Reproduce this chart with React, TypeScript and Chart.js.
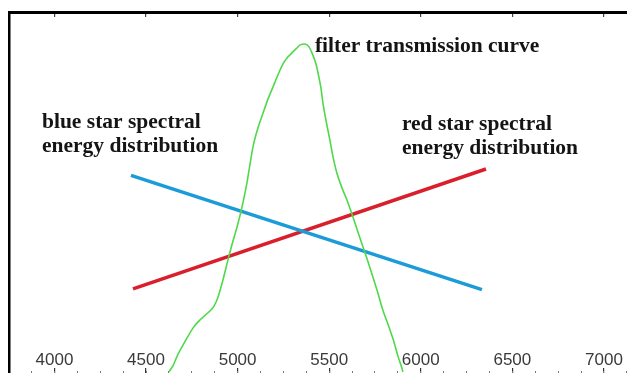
import React, { useEffect, useRef } from "react";
import { Chart, registerables } from "chart.js";

Chart.register(...registerables);

// Axis ticks (wavelength, Å)
const TICK_VALUES = [4000, 4500, 5000, 5500, 6000, 6500, 7000];
const TICK_LABELS = ["4000", "4500", "5000", "5500", "6000", "6500", "7000"];
const MINOR_STEP = 125;

// Blue star spectral energy distribution (straight line)
const BLUE_X = [4418, 6334];
const BLUE_Y = [54.1, 22.0];

// Red star spectral energy distribution (straight line)
const RED_X = [4429, 6356];
const RED_Y = [22.2, 55.9];

// Filter transmission curve
const FILTER_X = [
  4625, 4647, 4675, 4718, 4756, 4795, 4849, 4871, 4893, 4920, 4947, 4969, 4997,
  5024, 5051, 5084, 5111, 5139, 5166, 5193, 5220, 5248, 5275, 5302, 5324, 5340,
  5368, 5390, 5411, 5428, 5439, 5455, 5466, 5482, 5504, 5521, 5542, 5570, 5597,
  5630, 5657, 5690, 5723, 5761, 5793, 5832, 5854, 5875, 5897, 5902,
];
const FILTER_Y = [
  -1.1, 0.6, 3.9, 7.9, 11.2, 13.5, 16.0, 17.4, 19.9, 24.7, 30.3, 34.6, 39.6,
  45.2, 52.0, 62.1, 67.4, 71.6, 75.6, 78.9, 82.3, 85.4, 87.4, 88.8, 89.9, 90.7,
  91.0, 90.2, 87.9, 85.4, 82.9, 78.7, 74.4, 69.7, 64.0, 59.3, 54.8, 50.6, 47.2,
  42.4, 38.2, 33.2, 28.1, 21.9, 16.3, 10.7, 7.3, 3.4, 0.0, -1.1,
];

// Annotation texts
const NOTE_FILTER = ["filter transmission curve"];
const NOTE_BLUE = ["blue star spectral", "energy distribution"];
const NOTE_RED = ["red star spectral", "energy distribution"];

const NOTES = [
  { lines: NOTE_FILTER, x: 5422, y: 88.7 },
  { lines: NOTE_BLUE, x: 3932, y: 67.5 },
  { lines: NOTE_RED, x: 5897, y: 66.9 },
];

const X_MIN = 3752;
const X_MAX = 7126;
const Y_MIN = 4.49;
const Y_MAX = 100;

const toPoints = (xs: number[], ys: number[]) => xs.map((x, i) => ({ x, y: ys[i] }));

const setMajorTicks = (scale: any) => {
  scale.ticks = TICK_VALUES.map((v) => ({ value: v }));
};
const setMinorTicks = (scale: any) => {
  const t: { value: number }[] = [];
  for (let v = Math.ceil(X_MIN / MINOR_STEP) * MINOR_STEP; v <= X_MAX; v += MINOR_STEP) t.push({ value: v });
  scale.ticks = t;
};

const notesPlugin = {
  id: "notesPlugin",
  afterLayout(chart: any) {
    // let the left frame line run down to the bottom edge like the original
    const ys = chart.scales.y;
    if (ys) ys.bottom = chart.height;
  },
  afterDatasetsDraw(chart: any) {
    const { ctx } = chart;
    const xs = chart.scales.x;
    const ys = chart.scales.y;
    ctx.save();
    ctx.font = 'bold 21.5px "Liberation Serif", "Times New Roman", serif';
    ctx.fillStyle = "#141414";
    ctx.textAlign = "left";
    ctx.textBaseline = "alphabetic";
    for (const n of NOTES) {
      const px = xs.getPixelForValue(n.x);
      const py = ys.getPixelForValue(n.y);
      n.lines.forEach((t, i) => ctx.fillText(t, px, py + i * 24));
    }
    ctx.restore();
  },
};

export default function App() {
  const ref = useRef<HTMLCanvasElement | null>(null);

  useEffect(() => {
    if (!ref.current) return;
    const chart = new Chart(ref.current, {
      type: "line",
      data: {
        datasets: [
          {
            label: "filter transmission curve",
            data: toPoints(FILTER_X, FILTER_Y),
            borderColor: "#4fd94a",
            borderWidth: 1.6,
            pointRadius: 0,
            tension: 0.2,
            clip: false as any,
          },
          {
            label: "blue star spectral energy distribution",
            data: toPoints(BLUE_X, BLUE_Y),
            borderColor: "#1b9bd7",
            borderWidth: 3.5,
            pointRadius: 0,
          },
          {
            label: "red star spectral energy distribution",
            data: toPoints(RED_X, RED_Y),
            borderColor: "#d91f2b",
            borderWidth: 3.5,
            pointRadius: 0,
          },
        ],
      },
      options: {
        animation: false,
        responsive: false,
        layout: { padding: { left: 9, top: 12, right: 0, bottom: 0 } },
        plugins: {
          legend: { display: false },
          tooltip: { enabled: false },
        },
        scales: {
          // tick labels (sit just above the tick marks, as in the original)
          x: {
            type: "linear",
            position: "bottom",
            weight: 0,
            min: X_MIN,
            max: X_MAX,
            afterBuildTicks: setMajorTicks,
            afterFit: (s: any) => {
              s.height = 16;
            },
            border: { display: false },
            grid: { drawOnChartArea: false, drawTicks: false },
            ticks: {
              autoSkip: false,
              maxRotation: 0,
              padding: 0,
              color: "#3a3a3a",
              font: { family: '"Liberation Sans", Arial, sans-serif', size: 17, lineHeight: 1 },
              callback: (_v: any, i: number) => TICK_LABELS[i],
            },
          },
          // major tick marks
          xMajor: {
            type: "linear",
            position: "bottom",
            weight: 1,
            min: X_MIN,
            max: X_MAX,
            afterBuildTicks: setMajorTicks,
            afterFit: (s: any) => {
              s.height = 3;
            },
            border: { display: false },
            grid: { drawOnChartArea: false, drawTicks: true, tickLength: 5, color: "#333", lineWidth: 1.2 },
            ticks: { display: false },
          },
          // minor tick marks
          xMinor: {
            type: "linear",
            position: "bottom",
            weight: 2,
            min: X_MIN,
            max: X_MAX,
            afterBuildTicks: setMinorTicks,
            afterFit: (s: any) => {
              s.height = 2;
            },
            border: { display: false },
            grid: { drawOnChartArea: false, drawTicks: true, tickLength: 2, color: "#777", lineWidth: 1 },
            ticks: { display: false },
          },
          // top frame with inward ticks
          xTop: {
            type: "linear",
            position: "top",
            min: X_MIN,
            max: X_MAX,
            afterBuildTicks: setMajorTicks,
            afterFit: (s: any) => {
              s.height = 0;
            },
            border: { display: true, color: "#000", width: 3 },
            grid: { drawOnChartArea: false, drawTicks: true, tickLength: -5, color: "#444", lineWidth: 1.2 },
            ticks: { display: false },
          },
          y: {
            type: "linear",
            position: "left",
            min: Y_MIN,
            max: Y_MAX,
            afterFit: (s: any) => {
              s.width = 0;
            },
            border: { display: true, color: "#000", width: 2.5 },
            grid: { drawOnChartArea: false, drawTicks: false },
            ticks: { display: false },
          },
        },
      } as any,
      plugins: [notesPlugin],
    });
    return () => chart.destroy();
  }, []);

  return (
    <div style={{ position: "absolute", left: 0, top: 0, width: 627, height: 373, background: "#fff" }}>
      <canvas ref={ref} width={627} height={373} style={{ display: "block" }} />
    </div>
  );
}
